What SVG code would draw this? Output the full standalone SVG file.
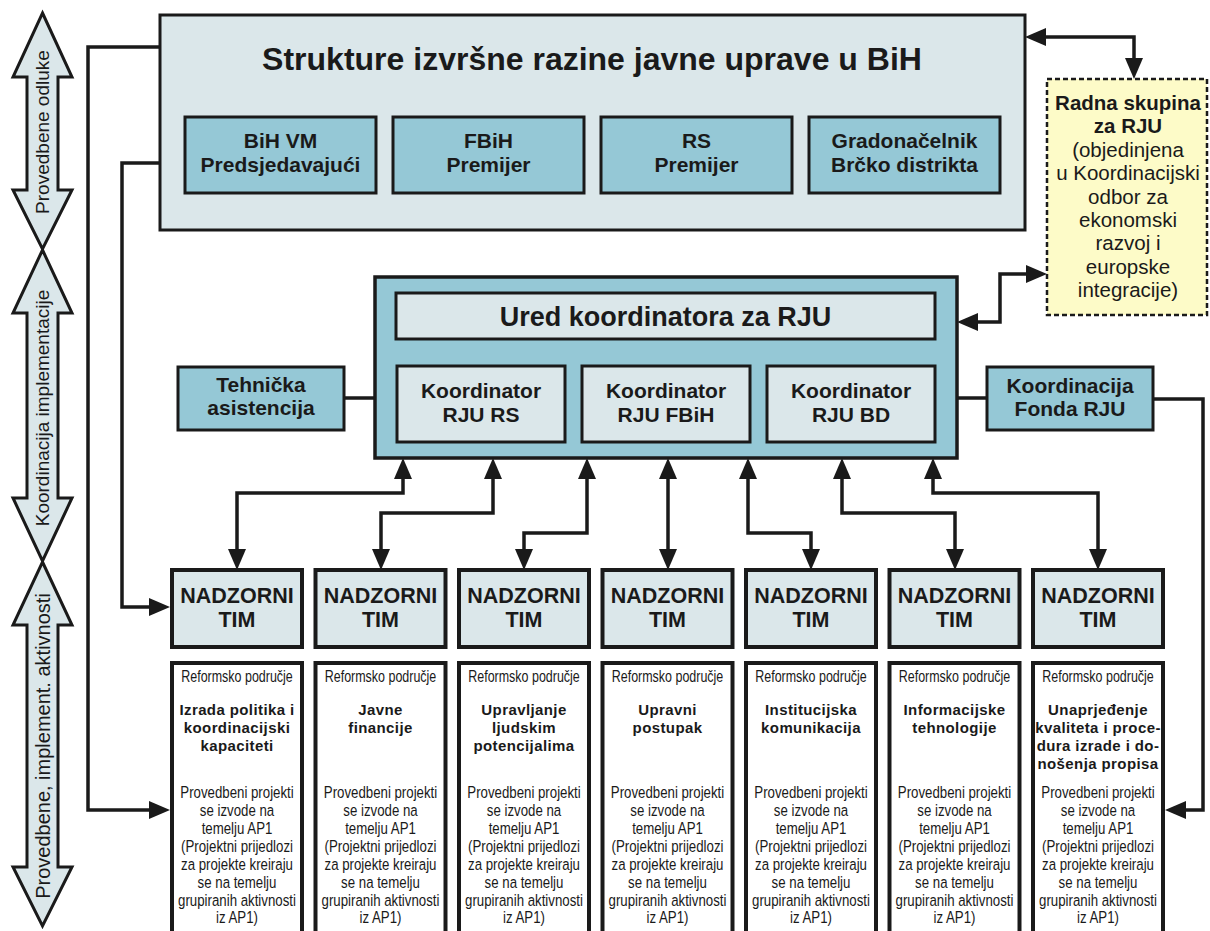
<svg xmlns="http://www.w3.org/2000/svg" width="1210" height="931" viewBox="0 0 1210 931">
<defs>
<style>
text{font-family:"Liberation Sans",Arial,sans-serif;fill:#1a1a1a;text-anchor:middle}
.b{font-weight:bold}
.lt{fill:#dbe7ea;stroke:#1a1a1a;stroke-width:3.5}
.md{fill:#95c8d6;stroke:#1a1a1a;stroke-width:3.5}
.wh{fill:#ffffff;stroke:#1a1a1a;stroke-width:4}
.bar{fill:#dbe7ea;stroke:#1a1a1a;stroke-width:3;stroke-linejoin:miter}
.c{fill:none;stroke:#1a1a1a;stroke-width:3.5}
.ca{fill:none;stroke:#1a1a1a;stroke-width:3.5;marker-end:url(#ah)}
.cb{fill:none;stroke:#1a1a1a;stroke-width:3.5;marker-start:url(#ah);marker-end:url(#ah)}
.t21{font-size:21px;font-weight:bold}
.nt{font-size:21.5px;font-weight:bold}
.rf{font-size:16px}
.bd{font-size:17px}
.tt{font-size:15px;font-weight:bold;letter-spacing:0.4px}
.side{font-size:19px;text-anchor:middle}
</style>
<marker id="ah" markerUnits="userSpaceOnUse" viewBox="0 0 21 18" refX="14" refY="9" markerWidth="21" markerHeight="18" orient="auto-start-reverse">
<path d="M0,0 L21,9 L0,18 Z" fill="#1a1a1a"/>
</marker>
</defs>
<rect width="1210" height="931" fill="#ffffff"/>

<!-- left side block arrows -->
<g id="side-arrows">
<g id="side1">
<path class="bar" d="M42.5,13 L72,77 L58,77 L58,190 L72,190 L42.5,249 L13,190 L27,190 L27,77 L13,77 Z"/>
<text class="side" transform="translate(49,132) rotate(-90)">Provedbene odluke</text>
</g>
<g id="side2">
<path class="bar" d="M42.5,250 L72,313 L58,313 L58,498 L72,498 L42.5,561 L13,498 L27,498 L27,313 L13,313 Z"/>
<text class="side" transform="translate(49,408) rotate(-90)">Koordinacija implementacije</text>
</g>
<g id="side3">
<path class="bar" d="M42.5,562 L72,625 L58,625 L58,867 L72,867 L42.5,926 L13,867 L27,867 L27,625 L13,625 Z"/>
<text class="side" style="font-size:20px" transform="translate(50,746) rotate(-90)">Provedbene, implement. aktivnosti</text>
</g>
</g>

<!-- connectors -->
<g id="connectors">
<path class="ca" d="M160,47 H88 V810 H163"/>
<path class="ca" d="M160,163 H122 V607 H163"/>
<path class="ca" d="M1153,399 H1203 V810 H1172"/>
<path class="c" d="M344,398 H375"/>
<path class="c" d="M957,398 H987"/>
<path class="cb" d="M1032,37 H1134 V72"/>
<path class="cb" d="M964,322 H1000 V274 H1040"/>
<path class="cb" d="M403,465 V493 H237 V563"/>
<path class="cb" d="M493,465 V513 H381 V563"/>
<path class="cb" d="M587,465 V533 H524 V563"/>
<path class="cb" d="M668,465 V563"/>
<path class="cb" d="M748,465 V533 H811 V563"/>
<path class="cb" d="M842,465 V513 H955 V563"/>
<path class="cb" d="M933,465 V493 H1098 V563"/>
</g>

<!-- top box -->
<g id="strukture">
<rect class="lt" x="160" y="15" width="865" height="215" style="stroke-width:3"/>
<text class="b" x="592" y="70" style="font-size:32px">Strukture izvršne razine javne uprave u BiH</text>
</g>
<g id="bih-vm">
<rect class="md" x="185" y="117" width="191" height="76" style="stroke-width:3"/>
<text class="t21" x="280.5" y="148">BiH VM</text>
<text class="t21" x="280.5" y="172">Predsjedavajući</text>
</g>
<g id="fbih">
<rect class="md" x="393" y="117" width="191" height="76" style="stroke-width:3"/>
<text class="t21" x="488.5" y="148">FBiH</text>
<text class="t21" x="488.5" y="172">Premijer</text>
</g>
<g id="rs">
<rect class="md" x="601" y="117" width="191" height="76" style="stroke-width:3"/>
<text class="t21" x="696.5" y="148">RS</text>
<text class="t21" x="696.5" y="172">Premijer</text>
</g>
<g id="brcko">
<rect class="md" x="809" y="117" width="191" height="76" style="stroke-width:3"/>
<text class="t21" x="904.5" y="148">Gradonačelnik</text>
<text class="t21" x="904.5" y="172">Brčko distrikta</text>
</g>

<!-- yellow box -->
<g id="radna-skupina">
<rect x="1047" y="79" width="160" height="236" fill="#fdfbc8" stroke="#1a1a1a" stroke-width="2.5" stroke-dasharray="5,3"/>
<text x="1128" y="110" style="font-size:20.5px;font-weight:bold">Radna skupina</text>
<text x="1128" y="133" style="font-size:20.5px;font-weight:bold">za RJU</text>
<text x="1128" y="157" style="font-size:20.5px">(objedinjena</text>
<text x="1128" y="180" style="font-size:20.5px">u Koordinacijski</text>
<text x="1128" y="204" style="font-size:20.5px">odbor za</text>
<text x="1128" y="227" style="font-size:20.5px">ekonomski</text>
<text x="1128" y="250" style="font-size:20.5px">razvoj i</text>
<text x="1128" y="274" style="font-size:20.5px">europske</text>
<text x="1128" y="297" style="font-size:20.5px">integracije)</text>
</g>

<!-- middle -->
<g id="ured-outer">
<rect class="md" x="375" y="277" width="582" height="181"/>
</g>
<g id="ured">
<rect class="lt" x="396" y="293" width="539" height="46" style="stroke-width:3"/>
<text class="b" x="665.5" y="326" style="font-size:27px">Ured koordinatora za RJU</text>
</g>
<g id="koord-rs">
<rect class="lt" x="397" y="366" width="168" height="76" style="stroke-width:3"/>
<text class="t21" x="481" y="398">Koordinator</text>
<text class="t21" x="481" y="422">RJU RS</text>
</g>
<g id="koord-fbih">
<rect class="lt" x="582" y="366" width="168" height="76" style="stroke-width:3"/>
<text class="t21" x="666" y="398">Koordinator</text>
<text class="t21" x="666" y="422">RJU FBiH</text>
</g>
<g id="koord-bd">
<rect class="lt" x="767" y="366" width="168" height="76" style="stroke-width:3"/>
<text class="t21" x="851" y="398">Koordinator</text>
<text class="t21" x="851" y="422">RJU BD</text>
</g>
<g id="tehnicka">
<rect class="md" x="178" y="367" width="166" height="63" style="stroke-width:3"/>
<text class="t21" x="261" y="392">Tehnička</text>
<text class="t21" x="261" y="415">asistencija</text>
</g>
<g id="fonda">
<rect class="md" x="987" y="367" width="166" height="63" style="stroke-width:3"/>
<text class="t21" x="1070" y="393">Koordinacija</text>
<text class="t21" x="1070" y="416">Fonda RJU</text>
</g>

<!-- nadzorni timovi -->
<g id="tim1"><rect class="lt" x="172" y="570" width="130" height="77" style="stroke-width:4"/><text class="nt" x="237" y="603">NADZORNI</text><text class="nt" x="237" y="627">TIM</text></g>
<g id="tim2"><rect class="lt" x="315.5" y="570" width="130" height="77" style="stroke-width:4"/><text class="nt" x="380.5" y="603">NADZORNI</text><text class="nt" x="380.5" y="627">TIM</text></g>
<g id="tim3"><rect class="lt" x="459" y="570" width="130" height="77" style="stroke-width:4"/><text class="nt" x="524" y="603">NADZORNI</text><text class="nt" x="524" y="627">TIM</text></g>
<g id="tim4"><rect class="lt" x="602.5" y="570" width="130" height="77" style="stroke-width:4"/><text class="nt" x="667.5" y="603">NADZORNI</text><text class="nt" x="667.5" y="627">TIM</text></g>
<g id="tim5"><rect class="lt" x="746" y="570" width="130" height="77" style="stroke-width:4"/><text class="nt" x="811" y="603">NADZORNI</text><text class="nt" x="811" y="627">TIM</text></g>
<g id="tim6"><rect class="lt" x="889.5" y="570" width="130" height="77" style="stroke-width:4"/><text class="nt" x="954.5" y="603">NADZORNI</text><text class="nt" x="954.5" y="627">TIM</text></g>
<g id="tim7"><rect class="lt" x="1033" y="570" width="130" height="77" style="stroke-width:4"/><text class="nt" x="1098" y="603">NADZORNI</text><text class="nt" x="1098" y="627">TIM</text></g>

<!-- reform areas -->
<g id="area1" transform="translate(237,0)">
<rect class="wh" x="-65" y="663" width="130" height="280"/>
<g transform="scale(0.78,1)">
<text class="rf" x="0" y="682">Reformsko područje</text>
<text class="bd" x="0" y="798">Provedbeni projekti</text><text class="bd" x="0" y="816">se izvode na</text><text class="bd" x="0" y="834">temelju AP1</text><text class="bd" x="0" y="852">(Projektni prijedlozi</text><text class="bd" x="0" y="870">za projekte kreiraju</text><text class="bd" x="0" y="888">se na temelju</text><text class="bd" x="0" y="906">grupiranih aktivnosti</text><text class="bd" x="0" y="923">iz AP1)</text>
</g>
<text class="tt" x="0" y="715">Izrada politika i</text><text class="tt" x="0" y="733">koordinacijski</text><text class="tt" x="0" y="751">kapaciteti</text>
</g>
<g id="area2" transform="translate(380.5,0)">
<rect class="wh" x="-65" y="663" width="130" height="280"/>
<g transform="scale(0.78,1)">
<text class="rf" x="0" y="682">Reformsko područje</text>
<text class="bd" x="0" y="798">Provedbeni projekti</text><text class="bd" x="0" y="816">se izvode na</text><text class="bd" x="0" y="834">temelju AP1</text><text class="bd" x="0" y="852">(Projektni prijedlozi</text><text class="bd" x="0" y="870">za projekte kreiraju</text><text class="bd" x="0" y="888">se na temelju</text><text class="bd" x="0" y="906">grupiranih aktivnosti</text><text class="bd" x="0" y="923">iz AP1)</text>
</g>
<text class="tt" x="0" y="715">Javne</text><text class="tt" x="0" y="733">financije</text>
</g>
<g id="area3" transform="translate(524,0)">
<rect class="wh" x="-65" y="663" width="130" height="280"/>
<g transform="scale(0.78,1)">
<text class="rf" x="0" y="682">Reformsko područje</text>
<text class="bd" x="0" y="798">Provedbeni projekti</text><text class="bd" x="0" y="816">se izvode na</text><text class="bd" x="0" y="834">temelju AP1</text><text class="bd" x="0" y="852">(Projektni prijedlozi</text><text class="bd" x="0" y="870">za projekte kreiraju</text><text class="bd" x="0" y="888">se na temelju</text><text class="bd" x="0" y="906">grupiranih aktivnosti</text><text class="bd" x="0" y="923">iz AP1)</text>
</g>
<text class="tt" x="0" y="715">Upravljanje</text><text class="tt" x="0" y="733">ljudskim</text><text class="tt" x="0" y="751">potencijalima</text>
</g>
<g id="area4" transform="translate(667.5,0)">
<rect class="wh" x="-65" y="663" width="130" height="280"/>
<g transform="scale(0.78,1)">
<text class="rf" x="0" y="682">Reformsko područje</text>
<text class="bd" x="0" y="798">Provedbeni projekti</text><text class="bd" x="0" y="816">se izvode na</text><text class="bd" x="0" y="834">temelju AP1</text><text class="bd" x="0" y="852">(Projektni prijedlozi</text><text class="bd" x="0" y="870">za projekte kreiraju</text><text class="bd" x="0" y="888">se na temelju</text><text class="bd" x="0" y="906">grupiranih aktivnosti</text><text class="bd" x="0" y="923">iz AP1)</text>
</g>
<text class="tt" x="0" y="715">Upravni</text><text class="tt" x="0" y="733">postupak</text>
</g>
<g id="area5" transform="translate(811,0)">
<rect class="wh" x="-65" y="663" width="130" height="280"/>
<g transform="scale(0.78,1)">
<text class="rf" x="0" y="682">Reformsko područje</text>
<text class="bd" x="0" y="798">Provedbeni projekti</text><text class="bd" x="0" y="816">se izvode na</text><text class="bd" x="0" y="834">temelju AP1</text><text class="bd" x="0" y="852">(Projektni prijedlozi</text><text class="bd" x="0" y="870">za projekte kreiraju</text><text class="bd" x="0" y="888">se na temelju</text><text class="bd" x="0" y="906">grupiranih aktivnosti</text><text class="bd" x="0" y="923">iz AP1)</text>
</g>
<text class="tt" x="0" y="715">Institucijska</text><text class="tt" x="0" y="733">komunikacija</text>
</g>
<g id="area6" transform="translate(954.5,0)">
<rect class="wh" x="-65" y="663" width="130" height="280"/>
<g transform="scale(0.78,1)">
<text class="rf" x="0" y="682">Reformsko područje</text>
<text class="bd" x="0" y="798">Provedbeni projekti</text><text class="bd" x="0" y="816">se izvode na</text><text class="bd" x="0" y="834">temelju AP1</text><text class="bd" x="0" y="852">(Projektni prijedlozi</text><text class="bd" x="0" y="870">za projekte kreiraju</text><text class="bd" x="0" y="888">se na temelju</text><text class="bd" x="0" y="906">grupiranih aktivnosti</text><text class="bd" x="0" y="923">iz AP1)</text>
</g>
<text class="tt" x="0" y="715">Informacijske</text><text class="tt" x="0" y="733">tehnologije</text>
</g>
<g id="area7" transform="translate(1098,0)">
<rect class="wh" x="-65" y="663" width="130" height="280"/>
<g transform="scale(0.78,1)">
<text class="rf" x="0" y="682">Reformsko područje</text>
<text class="bd" x="0" y="798">Provedbeni projekti</text><text class="bd" x="0" y="816">se izvode na</text><text class="bd" x="0" y="834">temelju AP1</text><text class="bd" x="0" y="852">(Projektni prijedlozi</text><text class="bd" x="0" y="870">za projekte kreiraju</text><text class="bd" x="0" y="888">se na temelju</text><text class="bd" x="0" y="906">grupiranih aktivnosti</text><text class="bd" x="0" y="923">iz AP1)</text>
</g>
<text class="tt" x="0" y="715">Unaprjeđenje</text><text class="tt" x="0" y="733">kvaliteta i proce-</text><text class="tt" x="0" y="751">dura izrade i do-</text><text class="tt" x="0" y="769">nošenja propisa</text>
</g>
</svg>
